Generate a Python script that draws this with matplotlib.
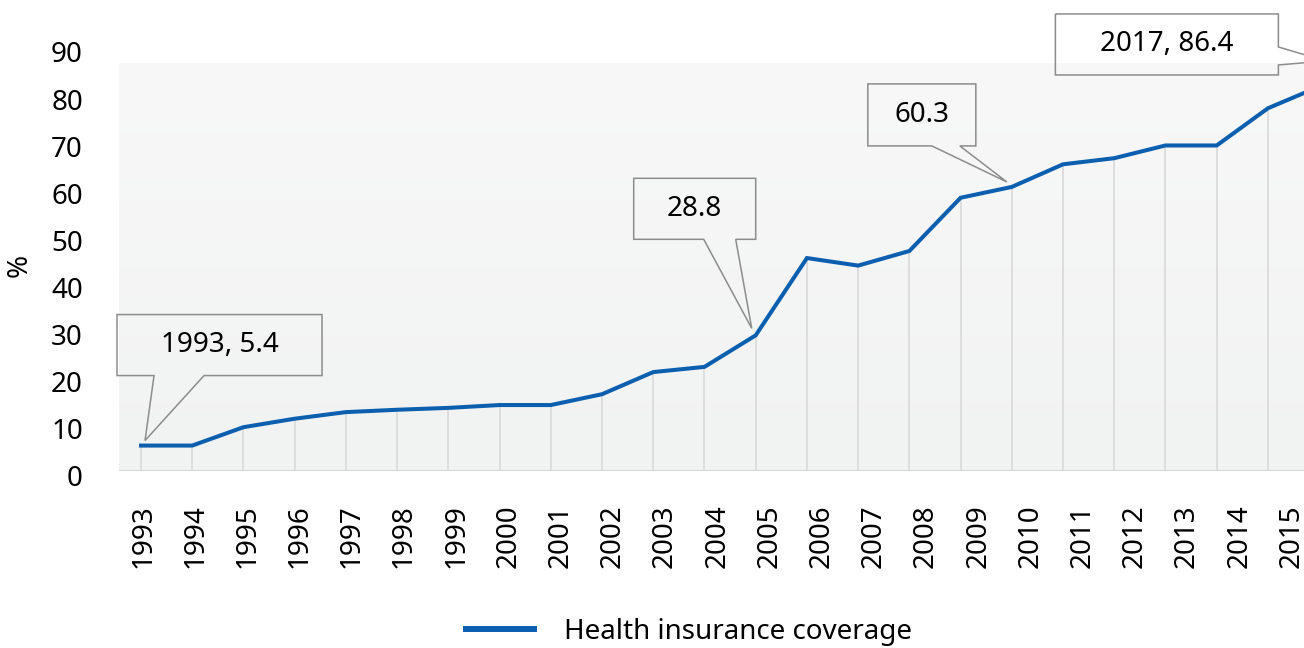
import numpy as np
import matplotlib
matplotlib.use("Agg")
import matplotlib.pyplot as plt
from matplotlib.colors import LinearSegmentedColormap
from matplotlib.lines import Line2D
from matplotlib.patches import Polygon
from matplotlib.transforms import IdentityTransform, ScaledTranslation

plt.rcParams['font.family'] = ['Noto Sans', 'DejaVu Sans']

# data
years = list(range(1993, 2018))
coverage = [5.4, 5.4, 9.3, 11.1, 12.5, 13.0, 13.4, 14.0, 14.0, 16.3,
            21.0, 22.1, 28.8, 45.2, 43.6, 46.7, 58.0, 60.3, 65.1, 66.4,
            69.1, 69.1, 77.0, 81.6, 86.4]
series_label = "Health insurance coverage"
y_label = "%"
y_ticks = list(range(0, 100, 10))

# callouts: (year, text)
callouts = [(1993, "1993, 5.4"), (2005, "28.8"), (2010, "60.3"), (2017, "2017, 86.4")]

W, H = 1304, 648
LINE_COLOR = "#0B5FAE"
fig = plt.figure(figsize=(W / 100, H / 100), dpi=100)

# axes runs past the right edge of the picture (chart is cropped)
left_px, right_px, bottom_px, top_px = 119, 1396, 471, 47
ax = fig.add_axes([left_px / W, 1 - bottom_px / H,
                   (right_px - left_px) / W, (bottom_px - top_px) / H])
ax.set_facecolor("none")

x0, x1 = 1992.57, 2017.5

# plot area gradient background
cmap = LinearSegmentedColormap.from_list("bg", ["#f1f2f2", "#f8f8f8"])
ax.imshow(np.linspace(0, 1, 256)[:, None], extent=[x0, x1, 0, max(coverage)],
          origin="lower", aspect="auto", cmap=cmap, zorder=0)

# drop lines
ax.vlines(years, 0, coverage, color="#d9d9d9", lw=1.2, zorder=1)
ax.axhline(0, color="#d9d9d9", lw=1.6, zorder=1)

ax.plot(years, coverage, color=LINE_COLOR, lw=2.9, zorder=3,
        solid_joinstyle="miter")

ax.set_xlim(x0, x1)
ax.set_ylim(0, 90)

# the year labels sit on a slightly wider grid than the points
label_step = 52.2 / 51.23
label_pos = [1993.04 + (y - 1993) * label_step for y in years]
ax.set_xticks(label_pos)
ax.set_xticklabels([str(y) for y in years], rotation=90, fontsize=20)
ax.set_yticks(y_ticks)
ax.set_yticklabels([str(t) for t in y_ticks], fontsize=20)
ax.tick_params(axis="both", length=0)
ax.tick_params(axis="x", pad=24)
ax.tick_params(axis="y", pad=26)
for lab in ax.get_yticklabels():
    lab.set_transform(lab.get_transform() + ScaledTranslation(0, -5 / 100, fig.dpi_scale_trans))
for s in ax.spines.values():
    s.set_visible(False)

fig.text(20 / W, 1 - 265 / H, y_label, rotation=90, fontsize=20,
         ha="center", va="center")

# callout shapes, offsets in pixels relative to the data point (image y down)
# box (L, T, R, B), pointer side, pointer base (p0, p1), tip
shapes = {
    1993: ((-24, -131, 181, -70), "bottom", (13, 63), (4, -5)),
    2005: ((-122, -157, 0, -96), "bottom", (-52, -20), (-4, -7)),
    2010: ((-144, -103, -36, -41), "bottom", (-80, -52), (-5, -5)),
    2017: ((-315, -50, -92, 11), "right", (-17, 1), (-45, -3)),
}


def to_disp(px, py):
    return (px, H - py)


for year, text in callouts:
    val = coverage[years.index(year)]
    dx, dy = ax.transData.transform((year, val))
    px, py = dx, H - dy
    (L, T, R, B), side, (p0, p1), (tx, ty) = shapes[year]
    L, R, T, B = px + L, px + R, py + T, py + B
    tip = (px + tx, py + ty)
    if side == "bottom":
        pts = [(L, T), (R, T), (R, B), (px + p1, B), tip, (px + p0, B), (L, B)]
    else:
        pts = [(L, T), (R, T), (R, py + p0), tip, (R, py + p1), (R, B), (L, B)]
    poly = Polygon([to_disp(*p) for p in pts], closed=True, transform=IdentityTransform(),
                   facecolor="none", edgecolor="#8c8c8c", lw=1.1, zorder=5)
    fig.add_artist(poly)
    cx, cy = to_disp((L + R) / 2, (T + B) / 2)
    fig.text(cx, cy, text, transform=IdentityTransform(), fontsize=20,
             ha="center", va="center", zorder=6)

handle = Line2D([], [], color=LINE_COLOR, lw=4.3)
fig.legend([handle], [series_label], loc="center", bbox_to_anchor=(689 / W, 1 - 632 / H),
           frameon=False, fontsize=20, handlelength=2.45, handletextpad=1.08)

fig.savefig("out.png", dpi=100)
